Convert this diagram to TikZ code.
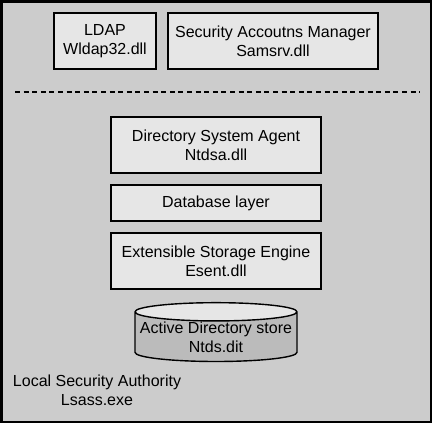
\documentclass[tikz,border=0pt]{standalone}
\usepackage{fontspec}
\setmainfont{Liberation Sans}
\usetikzlibrary{shapes.geometric}

\definecolor{lsagray}{RGB}{204,204,204}
\definecolor{boxgray}{RGB}{230,230,230}
\definecolor{storegray}{RGB}{187,187,187}

\begin{document}
\begin{tikzpicture}[x=1pt, y=-1pt,
  every node/.style={font=\fontsize{16}{19}\selectfont, align=center, inner sep=0pt},
  module/.style={draw, line width=2pt, fill=boxgray, minimum height=56pt},
  layer/.style={module, minimum width=210pt},
  store/.style={cylinder, shape border rotate=90, aspect=0.12, draw, line width=1.4pt,
    minimum width=162pt, minimum height=54pt, cylinder uses custom fill,
    cylinder body fill=storegray, cylinder end fill=boxgray}]
  \useasboundingbox (0,0) rectangle (432,423);
  \draw[line width=2.5pt, fill=lsagray] (1.25,1.25) rectangle (430.75,421.75);

  \node[module, minimum width=102pt] (ldap) at (105,41) {LDAP\\Wldap32.dll};
  \node[module, minimum width=210pt] (sam)  at (273,41) {Security Accoutns Manager\\Samsrv.dll};

  \coordinate (cutl) at (15,92);
  \coordinate (cutr) at (420,92);
  \draw[line width=2pt, dash pattern=on 5pt off 3.6pt] (cutl) -- (cutr);

  \node[layer] (dsa) at (216,145) {Directory System Agent\\Ntdsa.dll};
  \node[layer, minimum height=36pt] (db) at (216,203) {Database layer};
  \node[layer] (ese) at (216,261) {Extensible Storage Engine\\Esent.dll};
  \node[store] (ntds) at (216,337) {Active Directory store\\Ntds.dit};

  \node (lsa) at (97,390) {Local Security Authority\\Lsass.exe};
\end{tikzpicture}
\end{document}
